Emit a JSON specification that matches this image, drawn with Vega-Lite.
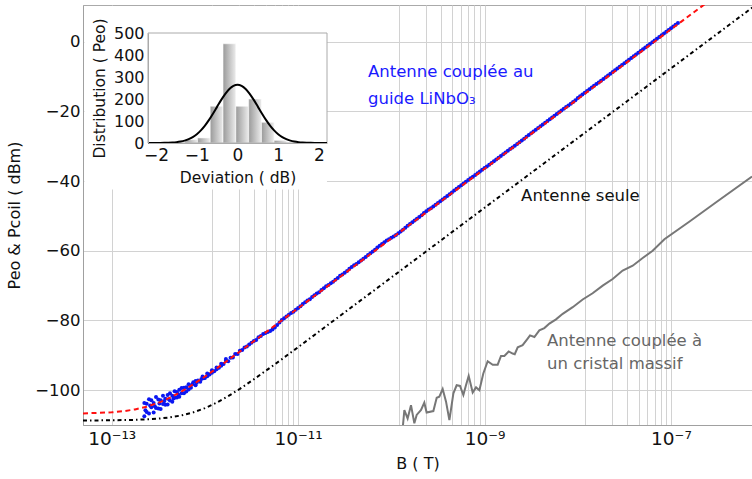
{
  "$schema": "https://vega.github.io/schema/vega-lite/v6.json",
  "width": 669,
  "height": 420,
  "autosize": {"type": "none"},
  "padding": {"left": 83, "top": 5, "right": 0, "bottom": 54},
  "background": "white",
  "config": {
    "font": "DejaVu Sans",
    "view": {"stroke": "#aaaaaa", "strokeWidth": 1},
    "axis": {
      "labelFont": "DejaVu Sans",
      "titleFont": "DejaVu Sans",
      "labelColor": "#111111",
      "titleColor": "#111111",
      "titleFontWeight": "normal",
      "gridColor": "#d2d2d2",
      "gridWidth": 1,
      "domainColor": "#a0a0a0"
    }
  },
  "datasets": {
    "cover": [{"x1": 5.1e-14, "x2": 2.04e-11, "y1": -42.4, "y2": 10.2}],
    "fit": [
      {"B": 4.92e-14, "P": -106.68}, {"B": 1e-13, "P": -106.36}, {"B": 1.334e-13, "P": -106.04},
      {"B": 1.778e-13, "P": -105.53}, {"B": 2.371e-13, "P": -104.75}, {"B": 3.162e-13, "P": -103.64},
      {"B": 4.217e-13, "P": -102.17}, {"B": 5.623e-13, "P": -100.38}, {"B": 7.499e-13, "P": -98.33},
      {"B": 1e-12, "P": -96.11}, {"B": 1.334e-12, "P": -93.78}, {"B": 1.778e-12, "P": -91.37},
      {"B": 2.371e-12, "P": -88.93}, {"B": 3.162e-12, "P": -86.46}, {"B": 5.623e-12, "P": -81.49},
      {"B": 1e-11, "P": -76.5}, {"B": 2.512e-7, "P": 11.5}
    ],
    "antenna": [
      {"B": 4.92e-14, "P": -108.7}, {"B": 1e-13, "P": -108.65}, {"B": 1.778e-13, "P": -108.53},
      {"B": 3.162e-13, "P": -108.18}, {"B": 4.217e-13, "P": -107.82}, {"B": 5.623e-13, "P": -107.24},
      {"B": 7.499e-13, "P": -106.38}, {"B": 1e-12, "P": -105.16}, {"B": 1.334e-12, "P": -103.6},
      {"B": 1.778e-12, "P": -101.73}, {"B": 2.371e-12, "P": -99.63}, {"B": 3.162e-12, "P": -97.37},
      {"B": 5.623e-12, "P": -92.59}, {"B": 1e-11, "P": -87.67}, {"B": 7.943e-7, "P": 10.3}
    ],
    "massif": [
      {"B": 1.324e-10, "P": -111}, {"B": 1.38e-10, "P": -105.7}, {"B": 1.496e-10, "P": -108.1},
      {"B": 1.626e-10, "P": -104.3}, {"B": 1.766e-10, "P": -109.5}, {"B": 1.871e-10, "P": -107.1},
      {"B": 2.084e-10, "P": -105.7}, {"B": 2.259e-10, "P": -103.6}, {"B": 2.393e-10, "P": -106.4},
      {"B": 2.825e-10, "P": -106.0}, {"B": 3.069e-10, "P": -102.2}, {"B": 3.273e-10, "P": -101.9},
      {"B": 3.556e-10, "P": -99.7}, {"B": 3.864e-10, "P": -103.3}, {"B": 4.198e-10, "P": -108.6},
      {"B": 4.634e-10, "P": -100.9}, {"B": 5.023e-10, "P": -98.6}, {"B": 5.458e-10, "P": -98.8},
      {"B": 5.929e-10, "P": -101.4}, {"B": 6.324e-10, "P": -98.6}, {"B": 6.761e-10, "P": -95.9},
      {"B": 7.464e-10, "P": -100.7}, {"B": 8.11e-10, "P": -99.2}, {"B": 8.81e-10, "P": -100.0},
      {"B": 9.705e-10, "P": -95.2}, {"B": 1.081e-9, "P": -91.7}, {"B": 1.225e-9, "P": -92.7},
      {"B": 1.384e-9, "P": -92.7}, {"B": 1.503e-9, "P": -90.2}, {"B": 1.633e-9, "P": -90.2},
      {"B": 1.816e-9, "P": -88.9}, {"B": 2.004e-9, "P": -89.5}, {"B": 2.109e-9, "P": -89.7},
      {"B": 2.27e-9, "P": -87.7}, {"B": 2.564e-9, "P": -87.1}, {"B": 2.904e-9, "P": -85.2},
      {"B": 3.076e-9, "P": -84.3}, {"B": 3.428e-9, "P": -84.75}, {"B": 3.873e-9, "P": -82.85},
      {"B": 4.385e-9, "P": -82.2}, {"B": 4.966e-9, "P": -80.9}, {"B": 5.848e-9, "P": -79.7},
      {"B": 6.902e-9, "P": -78.1}, {"B": 8.831e-9, "P": -76.2}, {"B": 1.13e-8, "P": -74.0},
      {"B": 1.445e-8, "P": -72.2}, {"B": 1.854e-8, "P": -70.0}, {"B": 2.371e-8, "P": -68.1},
      {"B": 3.034e-8, "P": -65.7}, {"B": 3.89e-8, "P": -64.3}, {"B": 4.977e-8, "P": -62.1},
      {"B": 6.368e-8, "P": -60.0}, {"B": 8.511e-8, "P": -56.7}, {"B": 1.585e-7, "P": -51.6},
      {"B": 3.162e-7, "P": -45.8}, {"B": 7.413e-7, "P": -38.7}
    ],
    "coupled": [
      {"B": 2.239e-13, "P": -103.7}, {"B": 2.239e-13, "P": -107.5}, {"B": 2.3e-13, "P": -105.8},
      {"B": 2.371e-13, "P": -106.3}, {"B": 2.371e-13, "P": -103.9},
      {"B": 2.512e-13, "P": -102.6}, {"B": 2.512e-13, "P": -106.7}, {"B": 2.58e-13, "P": -104.4},
      {"B": 2.661e-13, "P": -104.9}, {"B": 2.661e-13, "P": -102.9},
      {"B": 2.818e-13, "P": -103.7}, {"B": 2.818e-13, "P": -106.4}, {"B": 2.9e-13, "P": -104.6},
      {"B": 2.985e-13, "P": -105.1}, {"B": 2.985e-13, "P": -102.0},
      {"B": 3.162e-13, "P": -102.7}, {"B": 3.162e-13, "P": -105.3}, {"B": 3.25e-13, "P": -103.8},
      {"B": 3.35e-13, "P": -105.4}, {"B": 3.35e-13, "P": -102.9},
      {"B": 3.548e-13, "P": -101.6}, {"B": 3.548e-13, "P": -104.0}, {"B": 3.65e-13, "P": -103.2},
      {"B": 3.758e-13, "P": -104.2}, {"B": 3.758e-13, "P": -102.5},
      {"B": 3.981e-13, "P": -101.4}, {"B": 3.981e-13, "P": -104.1}, {"B": 4.1e-13, "P": -102.6},
      {"B": 4.217e-13, "P": -103.0}, {"B": 4.217e-13, "P": -100.9},
      {"B": 4.467e-13, "P": -101.6}, {"B": 4.467e-13, "P": -103.3}, {"B": 4.6e-13, "P": -102.4},
      {"B": 4.732e-13, "P": -100.3}, {"B": 4.732e-13, "P": -102.2},
      {"B": 5.012e-13, "P": -102.1}, {"B": 5.012e-13, "P": -100.5}, {"B": 5.15e-13, "P": -101.2},
      {"B": 5.309e-13, "P": -99.9}, {"B": 5.309e-13, "P": -101.9},
      {"B": 5.623e-13, "P": -100.9}, {"B": 5.623e-13, "P": -99.4},
      {"B": 5.957e-13, "P": -99.3}, {"B": 5.957e-13, "P": -100.9},
      {"B": 6.31e-13, "P": -100.4}, {"B": 6.31e-13, "P": -99.2},
      {"B": 6.683e-13, "P": -98.3}, {"B": 6.683e-13, "P": -99.8},
      {"B": 7.079e-13, "P": -99.3}, {"B": 7.29e-13, "P": -98.4}, {"B": 7.499e-13, "P": -97.7},
      {"B": 7.943e-13, "P": -98.6}, {"B": 7.943e-13, "P": -97.4}, {"B": 8.17e-13, "P": -97.9},
      {"B": 8.414e-13, "P": -97.2}, {"B": 8.913e-13, "P": -97.6}, {"B": 9.17e-13, "P": -96.8}, {"B": 9.441e-13, "P": -96.1},
      {"B": 9.72e-13, "P": -96.6},
      {"B": 1e-12, "P": -96.5}, {"B": 1.059e-12, "P": -95.2}, {"B": 1.059e-12, "P": -96.0},
      {"B": 1.122e-12, "P": -95.5}, {"B": 1.189e-12, "P": -94.3}, {"B": 1.189e-12, "P": -95.0},
      {"B": 1.259e-12, "P": -94.6}, {"B": 1.334e-12, "P": -93.5}, {"B": 1.334e-12, "P": -94.0},
      {"B": 1.413e-12, "P": -93.6}, {"B": 1.496e-12, "P": -92.4}, {"B": 1.496e-12, "P": -93.0},
      {"B": 1.585e-12, "P": -92.5}, {"B": 1.679e-12, "P": -91.6}, {"B": 1.679e-12, "P": -91.1},
      {"B": 1.778e-12, "P": -91.7}, {"B": 1.884e-12, "P": -90.7}, {"B": 1.995e-12, "P": -90.6},
      {"B": 2.113e-12, "P": -89.6}, {"B": 2.239e-12, "P": -89.6}, {"B": 2.371e-12, "P": -88.7},
      {"B": 2.512e-12, "P": -88.5}, {"B": 2.661e-12, "P": -87.8}, {"B": 2.818e-12, "P": -87.5},
      {"B": 2.985e-12, "P": -86.9}, {"B": 3.162e-12, "P": -86.4}, {"B": 3.35e-12, "P": -85.9},
      {"B": 3.548e-12, "P": -85.6}, {"B": 3.758e-12, "P": -84.8}, {"B": 3.981e-12, "P": -84.5},
      {"B": 4.217e-12, "P": -83.9}, {"B": 4.467e-12, "P": -83.6}, {"B": 4.732e-12, "P": -83.3},
      {"B": 5.012e-12, "P": -83.0}, {"B": 5.309e-12, "P": -82.6}, {"B": 5.623e-12, "P": -82.0},
      {"B": 5.957e-12, "P": -81.3}, {"B": 6.31e-12, "P": -80.6}, {"B": 6.683e-12, "P": -79.9},
      {"B": 7.079e-12, "P": -79.4}, {"B": 7.499e-12, "P": -78.9}, {"B": 7.943e-12, "P": -78.4},
      {"B": 8.414e-12, "P": -77.9}, {"B": 8.913e-12, "P": -77.5}, {"B": 9.441e-12, "P": -76.9},
      {"B": 1e-11, "P": -76.4}, {"B": 1.059e-11, "P": -75.9}, {"B": 1.122e-11, "P": -75.3},
      {"B": 1.189e-11, "P": -74.8}, {"B": 1.259e-11, "P": -74.3}, {"B": 1.334e-11, "P": -73.9},
      {"B": 1.413e-11, "P": -73.3}, {"B": 1.496e-11, "P": -72.8}, {"B": 1.585e-11, "P": -72.3},
      {"B": 1.679e-11, "P": -71.9}, {"B": 1.778e-11, "P": -71.3}, {"B": 1.884e-11, "P": -70.8},
      {"B": 1.995e-11, "P": -70.2}, {"B": 2.113e-11, "P": -69.8}, {"B": 2.239e-11, "P": -69.3},
      {"B": 2.371e-11, "P": -68.9}, {"B": 2.512e-11, "P": -68.3}, {"B": 2.661e-11, "P": -67.8},
      {"B": 2.818e-11, "P": -67.2}, {"B": 2.985e-11, "P": -66.8}, {"B": 3.162e-11, "P": -66.3},
      {"B": 3.35e-11, "P": -65.8}, {"B": 3.548e-11, "P": -65.2}, {"B": 3.758e-11, "P": -64.7},
      {"B": 3.981e-11, "P": -64.2}, {"B": 4.217e-11, "P": -63.8}, {"B": 4.467e-11, "P": -63.3},
      {"B": 4.732e-11, "P": -62.8}, {"B": 5.012e-11, "P": -62.3}, {"B": 5.309e-11, "P": -61.8},
      {"B": 5.623e-11, "P": -61.2}, {"B": 5.957e-11, "P": -60.7}, {"B": 6.31e-11, "P": -60.2},
      {"B": 6.683e-11, "P": -59.7}, {"B": 7.079e-11, "P": -59.1}, {"B": 7.499e-11, "P": -58.6},
      {"B": 7.943e-11, "P": -58.1}, {"B": 8.414e-11, "P": -57.6}, {"B": 8.913e-11, "P": -57.1},
      {"B": 9.441e-11, "P": -56.7},
      {"B": 1e-10, "P": -56.3}, {"B": 1.059e-10, "P": -55.9}, {"B": 1.122e-10, "P": -55.5},
      {"B": 1.189e-10, "P": -55.0}, {"B": 1.259e-10, "P": -54.5}, {"B": 1.334e-10, "P": -54.0},
      {"B": 1.413e-10, "P": -53.4}, {"B": 1.496e-10, "P": -52.8}, {"B": 1.585e-10, "P": -52.3},
      {"B": 1.679e-10, "P": -51.8}, {"B": 1.778e-10, "P": -51.3}, {"B": 1.884e-10, "P": -50.8},
      {"B": 1.995e-10, "P": -50.3}, {"B": 2.113e-10, "P": -49.8}, {"B": 2.239e-10, "P": -49.2},
      {"B": 2.371e-10, "P": -48.7}, {"B": 2.512e-10, "P": -48.2}, {"B": 2.661e-10, "P": -47.8},
      {"B": 2.818e-10, "P": -47.3}, {"B": 2.985e-10, "P": -46.8}, {"B": 3.162e-10, "P": -46.3},
      {"B": 3.35e-10, "P": -45.8}, {"B": 3.548e-10, "P": -45.3}, {"B": 3.758e-10, "P": -44.8},
      {"B": 3.981e-10, "P": -44.3}, {"B": 4.217e-10, "P": -43.8}, {"B": 4.467e-10, "P": -43.3},
      {"B": 4.732e-10, "P": -42.7}, {"B": 5.012e-10, "P": -42.2}, {"B": 5.309e-10, "P": -41.7},
      {"B": 5.623e-10, "P": -41.2}, {"B": 5.957e-10, "P": -40.7}, {"B": 6.31e-10, "P": -40.2},
      {"B": 6.683e-10, "P": -39.7}, {"B": 7.079e-10, "P": -39.2}, {"B": 7.499e-10, "P": -38.8},
      {"B": 7.943e-10, "P": -38.3}, {"B": 8.414e-10, "P": -37.8}, {"B": 8.913e-10, "P": -37.3},
      {"B": 9.441e-10, "P": -36.8},
      {"B": 1e-9, "P": -36.3}, {"B": 1.059e-9, "P": -35.8}, {"B": 1.122e-9, "P": -35.3},
      {"B": 1.189e-9, "P": -34.8}, {"B": 1.259e-9, "P": -34.3}, {"B": 1.334e-9, "P": -33.8},
      {"B": 1.413e-9, "P": -33.3}, {"B": 1.496e-9, "P": -32.8}, {"B": 1.585e-9, "P": -32.3},
      {"B": 1.679e-9, "P": -31.8}, {"B": 1.778e-9, "P": -31.3}, {"B": 1.884e-9, "P": -30.8},
      {"B": 1.995e-9, "P": -30.4}, {"B": 2.113e-9, "P": -29.9}, {"B": 2.239e-9, "P": -29.4},
      {"B": 2.371e-9, "P": -28.9}, {"B": 2.512e-9, "P": -28.4}, {"B": 2.661e-9, "P": -27.9},
      {"B": 2.818e-9, "P": -27.3}, {"B": 2.985e-9, "P": -26.8}, {"B": 3.162e-9, "P": -26.3},
      {"B": 3.35e-9, "P": -25.8}, {"B": 3.548e-9, "P": -25.3}, {"B": 3.758e-9, "P": -24.8},
      {"B": 3.981e-9, "P": -24.3}, {"B": 4.217e-9, "P": -23.8}, {"B": 4.467e-9, "P": -23.3},
      {"B": 4.732e-9, "P": -22.8}, {"B": 5.012e-9, "P": -22.3}, {"B": 5.309e-9, "P": -21.8},
      {"B": 5.623e-9, "P": -21.3}, {"B": 5.957e-9, "P": -20.8}, {"B": 6.31e-9, "P": -20.3},
      {"B": 6.683e-9, "P": -19.8}, {"B": 7.079e-9, "P": -19.3}, {"B": 7.499e-9, "P": -18.8},
      {"B": 7.943e-9, "P": -18.3}, {"B": 8.414e-9, "P": -17.8}, {"B": 8.913e-9, "P": -17.3},
      {"B": 9.441e-9, "P": -16.8},
      {"B": 1e-8, "P": -16.2}, {"B": 1.059e-8, "P": -15.7}, {"B": 1.122e-8, "P": -15.2},
      {"B": 1.189e-8, "P": -14.7}, {"B": 1.259e-8, "P": -14.2}, {"B": 1.334e-8, "P": -13.7},
      {"B": 1.413e-8, "P": -13.2}, {"B": 1.496e-8, "P": -12.7}, {"B": 1.585e-8, "P": -12.2},
      {"B": 1.679e-8, "P": -11.7}, {"B": 1.778e-8, "P": -11.2}, {"B": 1.884e-8, "P": -10.7},
      {"B": 1.995e-8, "P": -10.2}, {"B": 2.113e-8, "P": -9.7}, {"B": 2.239e-8, "P": -9.2},
      {"B": 2.371e-8, "P": -8.7}, {"B": 2.512e-8, "P": -8.2}, {"B": 2.661e-8, "P": -7.7},
      {"B": 2.818e-8, "P": -7.2}, {"B": 2.985e-8, "P": -6.7}, {"B": 3.162e-8, "P": -6.2},
      {"B": 3.35e-8, "P": -5.7}, {"B": 3.548e-8, "P": -5.2}, {"B": 3.758e-8, "P": -4.7},
      {"B": 3.981e-8, "P": -4.2}, {"B": 4.217e-8, "P": -3.7}, {"B": 4.467e-8, "P": -3.2},
      {"B": 4.732e-8, "P": -2.7}, {"B": 5.012e-8, "P": -2.2}, {"B": 5.309e-8, "P": -1.7},
      {"B": 5.623e-8, "P": -1.2}, {"B": 5.957e-8, "P": -0.7}, {"B": 6.31e-8, "P": -0.2},
      {"B": 6.683e-8, "P": 0.3}, {"B": 7.079e-8, "P": 0.8}, {"B": 7.499e-8, "P": 1.3},
      {"B": 7.943e-8, "P": 1.8}, {"B": 8.414e-8, "P": 2.3}, {"B": 8.913e-8, "P": 2.8},
      {"B": 9.441e-8, "P": 3.3}, {"B": 1e-7, "P": 3.8}, {"B": 1.059e-7, "P": 4.3},
      {"B": 1.122e-7, "P": 4.8}, {"B": 1.189e-7, "P": 5.3}
    ],
    "hist": [
      {"a": -1.29, "b": -0.98, "n": 15}, {"a": -0.98, "b": -0.67, "n": 23},
      {"a": -0.67, "b": -0.355, "n": 167}, {"a": -0.355, "b": -0.04, "n": 451},
      {"a": -0.04, "b": 0.275, "n": 167}, {"a": 0.275, "b": 0.59, "n": 200},
      {"a": 0.59, "b": 0.9, "n": 94}, {"a": 0.9, "b": 1.21, "n": 12}
    ],
    "gauss": [
      {"d": -2.2, "g": 0}, {"d": -2.1, "g": 0.05}, {"d": -2.0, "g": 0.1}, {"d": -1.9, "g": 0.3},
      {"d": -1.8, "g": 0.6}, {"d": -1.7, "g": 1.1}, {"d": -1.6, "g": 2.1}, {"d": -1.5, "g": 3.8},
      {"d": -1.4, "g": 6.6}, {"d": -1.3, "g": 10.9}, {"d": -1.2, "g": 17.5}, {"d": -1.1, "g": 27.0},
      {"d": -1.0, "g": 40.2}, {"d": -0.9, "g": 57.5}, {"d": -0.8, "g": 79.2}, {"d": -0.7, "g": 105.1},
      {"d": -0.6, "g": 134.4}, {"d": -0.5, "g": 165.4}, {"d": -0.4, "g": 195.9}, {"d": -0.3, "g": 223.6},
      {"d": -0.2, "g": 245.7}, {"d": -0.1, "g": 260.0}, {"d": 0, "g": 265}, {"d": 0.1, "g": 260.0},
      {"d": 0.2, "g": 245.7}, {"d": 0.3, "g": 223.6}, {"d": 0.4, "g": 195.9}, {"d": 0.5, "g": 165.4},
      {"d": 0.6, "g": 134.4}, {"d": 0.7, "g": 105.1}, {"d": 0.8, "g": 79.2}, {"d": 0.9, "g": 57.5},
      {"d": 1.0, "g": 40.2}, {"d": 1.1, "g": 27.0}, {"d": 1.2, "g": 17.5}, {"d": 1.3, "g": 10.9},
      {"d": 1.4, "g": 6.6}, {"d": 1.5, "g": 3.8}, {"d": 1.6, "g": 2.1}, {"d": 1.7, "g": 1.1},
      {"d": 1.8, "g": 0.6}, {"d": 1.9, "g": 0.3}, {"d": 2.0, "g": 0.1}, {"d": 2.1, "g": 0.05}, {"d": 2.2, "g": 0}
    ],
    "frame": [{"a": -2.2, "b": 2.2, "lo": 0, "hi": 500}],
    "blueText": [
      {"B": 5.62e-11, "P": -8.66, "t": "Antenne couplée au"},
      {"B": 5.62e-11, "P": -16.4, "t": "guide LiNbO₃"}
    ],
    "blackText": [{"B": 2.47e-9, "P": -44.4, "t": "Antenne seule"}],
    "grayText": [
      {"B": 4.69e-9, "P": -85.8, "t": "Antenne couplée à"},
      {"B": 4.69e-9, "P": -92.4, "t": "un cristal massif"}
    ]
  },
  "layer": [
    {
      "layer": [
        {
          "data": {"name": "cover"},
          "mark": {"type": "rect", "fill": "white", "stroke": null},
          "encoding": {
            "x": {
              "field": "x1", "type": "quantitative",
              "scale": {"type": "log", "domain": [4.92e-14, 7.41e-7], "nice": false},
              "axis": {
                "title": "B ( T)",
                "values": [1e-13, 1.2e-12, 2.33e-12, 3.4e-12, 4.49e-12, 5.6e-12, 6.7e-12, 7.8e-12, 8.9e-12, 1e-11,
                           1.2e-10, 2.33e-10, 3.4e-10, 4.49e-10, 5.6e-10, 6.7e-10, 7.8e-10, 8.9e-10, 1e-9,
                           1.2e-8, 2.33e-8, 3.4e-8, 4.49e-8, 5.6e-8, 6.7e-8, 7.8e-8, 8.9e-8, 1e-7],
                "labelExpr": "datum.value == 1e-13 ? '10⁻¹³' : datum.value == 1e-11 ? '10⁻¹¹' : datum.value == 1e-9 ? '10⁻⁹' : datum.value == 1e-7 ? '10⁻⁷' : ''",
                "grid": true, "ticks": false, "labelFontSize": 18.5, "titleFontSize": 16,
                "labelPadding": 4, "titlePadding": 8, "labelOverlap": false, "labelFlush": false
              }
            },
            "x2": {"field": "x2"},
            "y": {
              "field": "y1", "type": "quantitative",
              "scale": {"domain": [-110, 10.5], "nice": false, "zero": false},
              "axis": {
                "title": "Peo & Pcoil ( dBm)",
                "values": [-100, -80, -60, -40, -20, 0],
                "grid": true, "ticks": false, "labelFontSize": 16.5, "titleFontSize": 16,
                "labelPadding": 3, "titlePadding": 12
              }
            },
            "y2": {"field": "y2"}
          }
        },
        {
          "data": {"name": "antenna"},
          "mark": {"type": "line", "color": "#000000", "strokeWidth": 2, "strokeDash": [4, 3, 1.5, 3], "clip": true},
          "encoding": {"x": {"field": "B", "type": "quantitative"}, "y": {"field": "P", "type": "quantitative"}}
        },
        {
          "data": {"name": "massif"},
          "mark": {"type": "line", "color": "#777777", "strokeWidth": 2, "clip": true},
          "encoding": {"x": {"field": "B", "type": "quantitative"}, "y": {"field": "P", "type": "quantitative"}}
        },
        {
          "data": {"name": "coupled"},
          "mark": {"type": "circle", "size": 16, "color": "#0b17f2", "opacity": 1, "clip": true},
          "encoding": {"x": {"field": "B", "type": "quantitative"}, "y": {"field": "P", "type": "quantitative"}}
        },
        {
          "data": {"name": "fit"},
          "mark": {"type": "line", "color": "#ff1010", "strokeWidth": 2, "strokeDash": [5, 3.5], "clip": true},
          "encoding": {"x": {"field": "B", "type": "quantitative"}, "y": {"field": "P", "type": "quantitative"}}
        },
        {
          "data": {"name": "blueText"},
          "mark": {"type": "text", "align": "left", "baseline": "middle", "fontSize": 16.5, "color": "#1a1aff", "font": "DejaVu Sans"},
          "encoding": {"x": {"field": "B", "type": "quantitative"}, "y": {"field": "P", "type": "quantitative"}, "text": {"field": "t"}}
        },
        {
          "data": {"name": "blackText"},
          "mark": {"type": "text", "align": "left", "baseline": "middle", "fontSize": 16.5, "color": "#111111", "font": "DejaVu Sans"},
          "encoding": {"x": {"field": "B", "type": "quantitative"}, "y": {"field": "P", "type": "quantitative"}, "text": {"field": "t"}}
        },
        {
          "data": {"name": "grayText"},
          "mark": {"type": "text", "align": "left", "baseline": "middle", "fontSize": 16.5, "color": "#666666", "font": "DejaVu Sans"},
          "encoding": {"x": {"field": "B", "type": "quantitative"}, "y": {"field": "P", "type": "quantitative"}, "text": {"field": "t"}}
        }
      ]
    },
    {
      "layer": [
        {
          "data": {"name": "hist"},
          "mark": {
            "type": "rect",
            "fill": {"gradient": "linear", "x1": 0, "y1": 0, "x2": 1, "y2": 0,
                     "stops": [{"offset": 0, "color": "#9a9a9a"}, {"offset": 1, "color": "#ececec"}]},
            "stroke": "#ffffff", "strokeWidth": 0.5
          },
          "encoding": {
            "x": {
              "field": "a", "type": "quantitative",
              "scale": {"domain": [-2.2, 2.2], "range": [65, 244], "nice": false, "zero": false},
              "axis": {
                "orient": "bottom", "offset": -282, "values": [-2, -1, 0, 1, 2], "format": "d", "zindex": 2,
                "title": "Deviation ( dB)", "grid": false, "ticks": false,
                "labelFontSize": 17, "titleFontSize": 15.5, "labelPadding": 4, "titlePadding": 7,
                "domainColor": "#aaaaaa", "labelFlush": false, "labelOverlap": false
              }
            },
            "x2": {"field": "b"},
            "y": {
              "field": "n", "type": "quantitative",
              "scale": {"domain": [0, 500], "range": [138, 28], "nice": false},
              "axis": {
                "orient": "left", "offset": -65, "values": [0, 100, 200, 300, 400, 500], "format": "d", "zindex": 2,
                "title": "Distribution ( Peo)", "grid": false, "ticks": false,
                "labelFontSize": 16, "titleFontSize": 15.5, "labelPadding": 4, "titlePadding": 6,
                "domainColor": "#aaaaaa", "labelFlush": false, "labelOverlap": false
              }
            },
            "y2": {"datum": 0}
          }
        },
        {
          "data": {"name": "frame"},
          "mark": {"type": "rect", "fill": null, "filled": false, "stroke": "#aaaaaa", "strokeWidth": 1},
          "encoding": {
            "x": {"field": "a", "type": "quantitative"},
            "x2": {"field": "b"},
            "y": {"field": "lo", "type": "quantitative"},
            "y2": {"field": "hi"}
          }
        },
        {
          "data": {"name": "gauss"},
          "mark": {"type": "line", "color": "#000000", "strokeWidth": 2, "interpolate": "monotone"},
          "encoding": {"x": {"field": "d", "type": "quantitative"}, "y": {"field": "g", "type": "quantitative"}}
        }
      ]
    }
  ],
  "resolve": {"scale": {"x": "independent", "y": "independent"}}
}
